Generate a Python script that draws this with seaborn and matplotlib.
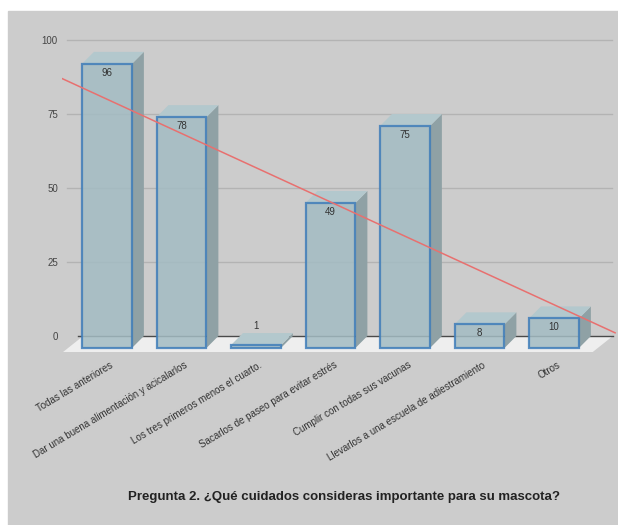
import numpy as np
import matplotlib
matplotlib.use("Agg")
import matplotlib.pyplot as plt
from matplotlib.patches import Polygon, Rectangle
import seaborn as sns

categories = [
    "Todas las anteriores",
    "Dar una buena alimentación y acicalarlos",
    "Los tres primeros menos el cuarto.",
    "Sacarlos de paseo para evitar estrés",
    "Cumplir con todas sus vacunas",
    "Llevarlos a una escuela de adiestramiento",
    "Otros",
]
values = [96, 78, 1, 49, 75, 8, 10]
grid_values = [0, 25, 50, 75, 100]
title = "Pregunta 2. ¿Qué cuidados consideras importante para su mascota?"

plt.rcParams["font.family"] = ["Liberation Sans", "DejaVu Sans"]

# fake 3D depth (in data units)
dx, dz = 0.16, 4.05
bar_w = 0.67

fig = plt.figure(figsize=(6.18, 5.25), dpi=100, facecolor="white")
fig.patches.append(Rectangle((8 / 618, 0), 1, (525 - 11) / 525, transform=fig.transFigure,
                             color="#cccccc", zorder=-10))
ax = fig.add_axes([62 / 618, 155 / 525, 556 / 618, 340 / 525])
ax.set_facecolor("none")

sns.barplot(x=categories, y=values, color="#a3bcc3", saturation=1, width=bar_w,
            edgecolor="#3f7db9", linewidth=1.6, alpha=0.85, ax=ax, zorder=3)

# floor
floor = Polygon([(-0.32, dz), (6.79, dz), (6.52, -1.35), (-0.59, -1.35)],
                closed=True, facecolor="#eeeeee", edgecolor="none", zorder=1)
ax.add_patch(floor)

# back gridlines
for g in grid_values:
    if g == 0:
        ax.plot([-0.39, 6.79], [dz, dz], color="#4a4a4a", lw=1.0, zorder=1.5)
    else:
        ax.plot([-0.54, 6.78], [g + dz, g + dz], color="#b3b3b3", lw=1.0, zorder=1.5)

# side and top faces
for i, v in enumerate(values):
    l, r = i - bar_w / 2, i + bar_w / 2
    side = Polygon([(r, 0), (r + dx, dz), (r + dx, v + dz), (r, v)],
                   closed=True, facecolor="#8fa1a5", edgecolor="none", zorder=2)
    top = Polygon([(l, v), (l + dx, v + dz), (r + dx, v + dz), (r, v)],
                  closed=True, facecolor="#b3c8cd", edgecolor="none", zorder=2)
    ax.add_patch(side)
    ax.add_patch(top)
    ly = v - 3 if v > 5 else v + dz + 2.5
    ax.text(i, ly, str(v), ha="center", va="center", fontsize=7, color="#333333", zorder=6)

# linear trendline
coef = np.polyfit(np.arange(len(values)), values, 1)
tx = np.array([-0.6, 6.82])
ax.plot(tx, np.polyval(coef, tx) + dz, color="#e8706f", lw=1.1, zorder=5)

ax.set_xlim(-0.604, 6.859)
ax.set_ylim(-7.43, 107.43)
ax.set_yticks([g + dz for g in grid_values])
ax.set_yticklabels([str(g) for g in grid_values], fontsize=7, color="#444444")
ax.tick_params(axis="y", length=0, pad=3)
ax.set_xticks([])
ax.set_xlabel("")
ax.set_ylabel("")
for s in ax.spines.values():
    s.set_visible(False)

for i, c in enumerate(categories):
    ax.text(i + 0.04, -4.0, c, rotation=31, rotation_mode="anchor", ha="right", va="top",
            fontsize=7, color="#333333")

fig.text(344 / 618, 1 - 497 / 525, title, ha="center", va="center",
         fontsize=9.5, fontweight="bold", color="#222222")

fig.savefig("out.png", dpi=100)
